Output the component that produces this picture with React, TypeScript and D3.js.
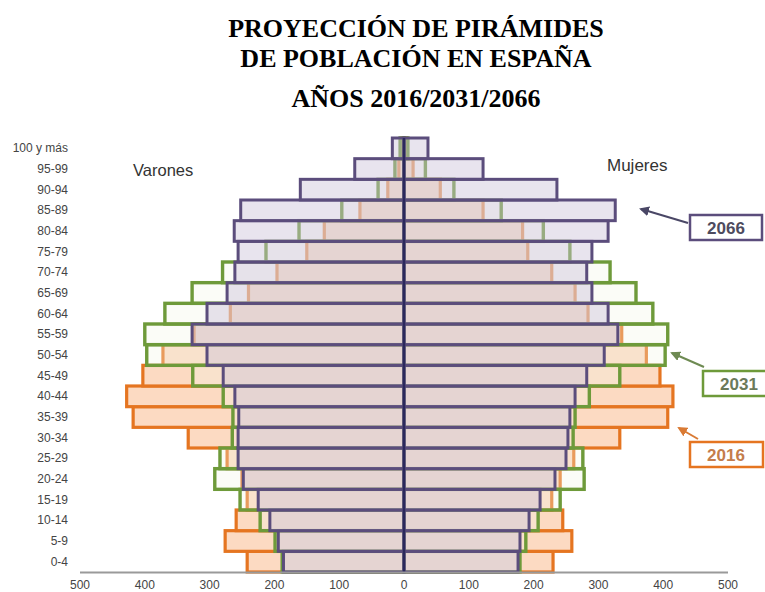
import React from 'react';
import * as d3 from 'd3';

// age groups, bottom to top
const ages = [
  '0-4', '5-9', '10-14', '15-19', '20-24', '25-29', '30-34', '35-39', '40-44', '45-49',
  '50-54', '55-59', '60-64', '65-69', '70-74', '75-79', '80-84', '85-89', '90-94', '95-99', '100 y más',
];

// Varones (left)
const men2016 = [242, 276, 259, 242, 250, 273, 333, 418, 428, 403, 372, 324, 268, 240, 196, 150, 123, 68, 25, 8, 3];
const men2031 = [188, 199, 222, 253, 292, 284, 265, 264, 279, 326, 397, 400, 369, 327, 280, 213, 162, 96, 40, 14, 6];
const men2066 = [186, 194, 207, 225, 248, 256, 256, 255, 261, 279, 304, 327, 304, 273, 261, 256, 262, 252, 160, 76, 18];

// Mujeres (right)
const women2016 = [230, 259, 245, 228, 241, 262, 333, 407, 415, 395, 374, 336, 284, 264, 228, 191, 183, 122, 56, 14, 4];
const women2031 = [179, 188, 207, 241, 278, 276, 261, 264, 286, 333, 403, 407, 384, 358, 318, 256, 215, 150, 77, 33, 6];
const women2066 = [176, 179, 193, 210, 233, 250, 253, 256, 264, 282, 309, 330, 315, 290, 282, 290, 315, 326, 236, 122, 37];

const axisTicks = [500, 400, 300, 200, 100, 0, 100, 200, 300, 400, 500];

const W = 765;
const H = 592;
const CX = 404;

const series = [
  { year: '2016', men: men2016, women: women2016, stroke: '#e57521', fill: '#fcdac2', fillOpacity: 1, sw: 3.2 },
  { year: '2031', men: men2031, women: women2031, stroke: '#6e9a3a', fill: '#f3f6e6', fillOpacity: 0.3, sw: 3.4 },
  { year: '2066', men: men2066, women: women2066, stroke: '#5b4d7c', fill: '#cdc4da', fillOpacity: 0.45, sw: 3 },
];

const sans = 'Liberation Sans, Arial, sans-serif';

export default function App() {
  const xL = d3.scaleLinear().domain([0, 500]).range([CX, 80]);
  const xR = d3.scaleLinear().domain([0, 500]).range([CX, 728]);
  const y = d3.scaleBand().domain(ages.slice().reverse()).range([138, 572]).padding(0);
  const bh = y.bandwidth();

  const tickX = (i: number) => (i < 5 ? xL(axisTicks[i]) : xR(axisTicks[i]));

  const legends = [
    { label: '2066', box: [690, 215, 72, 25], from: [688, 223], to: [641, 209], stroke: '#5b4d7c', text: '#4e4b5e', arrow: '#4a4766' },
    { label: '2031', box: [703, 371, 66, 25], from: [704, 367], to: [672, 353], stroke: '#6e9a3a', text: '#6b7a5a', arrow: '#6e8a52' },
    { label: '2016', box: [690, 442, 73, 25], from: [698, 439], to: [679, 428], stroke: '#e57521', text: '#c47d4c', arrow: '#d97a34' },
  ];

  return (
    <svg width={W} height={H} style={{ position: 'absolute', left: 0, top: 0, background: '#fff' }}>
      <defs>
        {legends.map((l) => (
          <marker key={l.label} id={'ah' + l.label} viewBox="0 0 10 10" refX="8" refY="5"
            markerWidth="5" markerHeight="5" orient="auto-start-reverse">
            <path d="M0,0 L10,5 L0,10 z" fill={l.arrow} />
          </marker>
        ))}
      </defs>

      <g fontFamily="Liberation Serif, Times New Roman, serif" fontWeight="bold" fontSize={26} textAnchor="middle" fill="#000">
        <text x={416} y={37}>PROYECCIÓN DE PIRÁMIDES</text>
        <text x={416} y={67}>DE POBLACIÓN EN ESPAÑA</text>
        <text x={416} y={107}>AÑOS 2016/2031/2066</text>
      </g>

      {series.map((s) => (
        <g key={s.year}>
          {ages.map((a, i) => (
            <g key={a}>
              <rect x={xL(s.men[i])} y={y(a)} width={CX - xL(s.men[i])} height={bh}
                fill={s.fill} fillOpacity={s.fillOpacity} stroke={s.stroke} strokeWidth={s.sw} />
              <rect x={CX} y={y(a)} width={xR(s.women[i]) - CX} height={bh}
                fill={s.fill} fillOpacity={s.fillOpacity} stroke={s.stroke} strokeWidth={s.sw} />
            </g>
          ))}
        </g>
      ))}

      <line x1={CX} x2={CX} y1={138} y2={572} stroke="#2b285c" strokeWidth={2.5} />
      <line x1={80} x2={728} y1={572.5} y2={572.5} stroke="#9a9a9a" strokeWidth={2} />

      <g fontFamily={sans} fontSize={12} fill="#444" textAnchor="end">
        {ages.map((a) => (
          <text key={a} x={68} y={(y(a) as number) + bh / 2 + 4}>{a}</text>
        ))}
      </g>

      <g fontFamily={sans} fontSize={12} fill="#444" textAnchor="middle">
        {axisTicks.map((t, i) => (
          <text key={i} x={tickX(i)} y={589}>{t}</text>
        ))}
      </g>

      <text x={133} y={176} fontFamily={sans} fontSize={16.5} fill="#333">Varones</text>
      <text x={607} y={171} fontFamily={sans} fontSize={17} fill="#333">Mujeres</text>

      {legends.map((l) => (
        <g key={l.label}>
          <line x1={l.from[0]} y1={l.from[1]} x2={l.to[0]} y2={l.to[1]} stroke={l.arrow} strokeWidth={2}
            markerEnd={`url(#ah${l.label})`} />
          <rect x={l.box[0]} y={l.box[1]} width={l.box[2]} height={l.box[3]} fill="#fff" stroke={l.stroke} strokeWidth={2.5} />
          <text x={l.box[0] + 36} y={l.box[1] + 19} textAnchor="middle" fontFamily={sans} fontSize={17}
            fontWeight="bold" fill={l.text}>{l.label}</text>
        </g>
      ))}
    </svg>
  );
}
